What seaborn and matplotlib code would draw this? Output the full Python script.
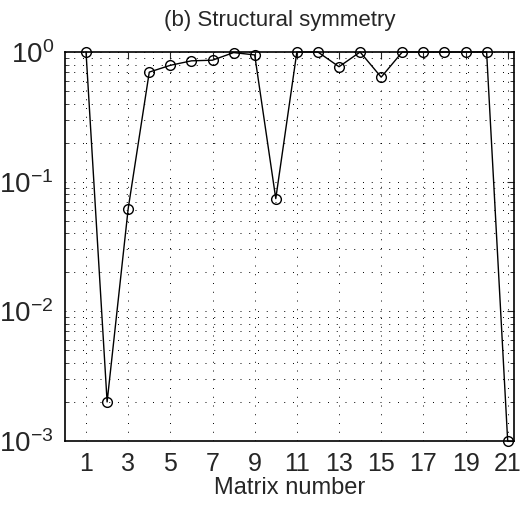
import numpy as np
import pandas as pd
import matplotlib
matplotlib.use("Agg")
import matplotlib.pyplot as plt
import seaborn as sns
from matplotlib.ticker import LogLocator, FixedLocator

# values
matrix_number = list(range(1, 22))
symmetry = [1.0, 0.002, 0.062, 0.70, 0.79, 0.855, 0.865, 0.99, 0.95, 0.074,
            1.0, 1.0, 0.77, 1.0, 0.64, 1.0, 1.0, 1.0, 1.0, 1.0, 0.001]
x_ticks = list(range(1, 22, 2))

df = pd.DataFrame({"matrix": matrix_number, "symmetry": symmetry})

sns.set_style("white")
plt.rcParams["font.family"] = ["Liberation Sans", "DejaVu Sans"]
plt.rcParams["mathtext.fontset"] = "custom"
plt.rcParams["mathtext.rm"] = "Liberation Sans"

fig = plt.figure(figsize=(5.28, 5.08), dpi=100)
ax = fig.add_axes([0.123, 0.132, 0.8505, 0.7656])

sns.lineplot(data=df, x="matrix", y="symmetry", ax=ax, color="black",
             linewidth=1.0, marker="o", markersize=7, markerfacecolor="none",
             markeredgecolor="black", markeredgewidth=1.0, clip_on=False)

ax.set_yscale("log")
ax.set_xlim(0, 21.3)
ax.set_ylim(1e-3, 1)
ax.xaxis.set_major_locator(FixedLocator(x_ticks))
ax.yaxis.set_major_locator(LogLocator(base=10, numticks=10))
ax.yaxis.set_minor_locator(LogLocator(base=10, subs=np.arange(2, 10), numticks=10))

# dotted grid, MATLAB style
dots = (0, (1, 8))
ax.grid(True, which="major", axis="both", color="black", linestyle=dots, linewidth=0.7)
ax.grid(True, which="minor", axis="y", color="black", linestyle=dots, linewidth=0.7)

ax.tick_params(axis="x", which="major", direction="in", length=5, width=0.8,
               top=True, labelsize=18, pad=8)
ax.tick_params(axis="y", which="major", direction="in", length=5, width=0.8,
               right=True, labelsize=20, pad=8)
ax.tick_params(axis="y", which="minor", direction="in", length=3, width=0.6,
               left=True, right=True, labelleft=False)
for s in ax.spines.values():
    s.set_color("black")
    s.set_linewidth(1.2)

ax.set_xlabel("Matrix number", fontsize=17, labelpad=1)
ax.set_ylabel("")
ax.set_title("(b) Structural symmetry", fontsize=16, pad=19, x=0.478)

fig.savefig("out.png", dpi=100)
